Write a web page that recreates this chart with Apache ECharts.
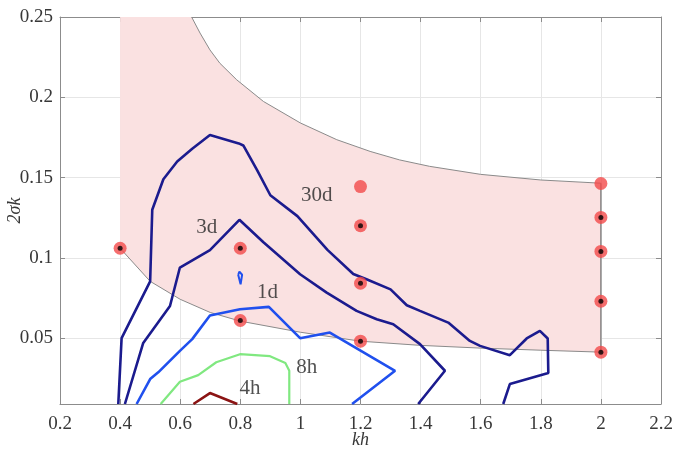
<!DOCTYPE html>
<html><head><meta charset="utf-8">
<script src="https://cdn.jsdelivr.net/npm/echarts@6/dist/echarts.min.js"></script>
<style>html,body{margin:0;padding:0;background:#fff}#c{width:674px;height:452px}</style>
</head><body><div id="c"></div>
<script>
// axis ranges and ticks
const xMin = 0.2, xMax = 2.2, xStep = 0.2;
const yMin = 0.009, yMax = 0.25;
const yTicks = [0.05, 0.1, 0.15, 0.2, 0.25];

// shaded region boundaries (kh, 2σk)
const upperBound = [[0.638,0.25],[0.666,0.240],[0.699,0.2295],[0.732,0.2212],[0.788,0.2109],[0.877,0.1974],[1.0,0.184],[1.121,0.1736],[1.232,0.1663],[1.33,0.161],[1.43,0.157],[1.6,0.152],[1.8,0.1485],[2.0,0.1465]];
const lowerBound = [[0.4,0.106],[0.5,0.0854],[0.6,0.0742],[0.7,0.066],[0.8,0.0606],[1.0,0.0537],[1.2,0.0481],[1.4,0.0455],[1.6,0.0438],[1.8,0.0425],[2.0,0.0413]];

// contours
const c30d = [[0.394,0.009],[0.405,0.050],[0.500,0.0854],[0.507,0.130],[0.544,0.149],[0.590,0.160],[0.640,0.168],[0.699,0.1765],[0.795,0.1713],[0.81,0.170],[0.855,0.155],[0.90,0.139],[0.99,0.126],[1.09,0.105],[1.176,0.090],[1.22,0.0867],[1.30,0.0804],[1.354,0.0705],[1.398,0.067],[1.492,0.0597],[1.564,0.0483],[1.598,0.0452],[1.697,0.0394],[1.753,0.0498],[1.797,0.0545],[1.823,0.0498],[1.825,0.0283],[1.697,0.0214],[1.675,0.009]];
const c3d = [[0.416,0.009],[0.477,0.047],[0.566,0.070],[0.599,0.094],[0.605,0.0949],[0.699,0.1048],[0.797,0.1237],[0.877,0.1097],[0.999,0.0898],[1.0875,0.0784],[1.187,0.067],[1.254,0.0618],[1.309,0.0587],[1.398,0.0463],[1.481,0.0297],[1.392,0.009]];
const c1d = [[0.455,0.009],[0.5,0.0245],[0.527,0.0287],[0.599,0.0421],[0.64,0.0494],[0.699,0.0641],[0.799,0.068],[0.895,0.0695],[0.999,0.050],[1.098,0.0535],[1.315,0.0297],[1.172,0.009]];
const c1dSmall = [[0.793,0.0895],[0.797,0.0915],[0.803,0.0913],[0.806,0.0895],[0.801,0.0835],[0.793,0.0895]];
const c8h = [[0.535,0.009],[0.599,0.0228],[0.66,0.027],[0.72,0.035],[0.799,0.040],[0.899,0.0388],[0.95,0.0345],[0.963,0.0297],[0.963,0.009]];
const c4h = [[0.644,0.009],[0.699,0.0158],[0.79,0.009]];

// measured cases
const dotPts = [[0.4,0.106],[0.8,0.106],[0.8,0.061],[1.2,0.120],[1.2,0.0842],[1.2,0.0481],[2.0,0.1252],[2.0,0.104],[2.0,0.073],[2.0,0.0413]];
const plainPts = [[1.2,0.1444],[2.0,0.1463]];

// contour labels
const contourLabels = [[1.054,0.1388,'30d'],[0.688,0.1188,'3d'],[0.8905,0.0784,'1d'],[1.021,0.0318,'8h'],[0.832,0.0188,'4h']];

const pinkPoly = [[0.4, yMax]].concat(upperBound, lowerBound.slice().reverse());
const rightEdge = [upperBound[upperBound.length-1], lowerBound[lowerBound.length-1]];

const FONT = 'Liberation Serif';
const axisCol = '#8c8c8c';
const gridCol = '#e6e6e6';
const txtCol = '#383838';

function line(data, color, width, z) {
  return { type:'line', data, showSymbol:false, symbol:'none', lineStyle:{color, width}, z: z||3, silent:true, animation:false };
}

const chart = echarts.init(document.getElementById('c'));
chart.setOption({
  animation:false,
  backgroundColor:'#fff',
  grid:{left:60, right:13, top:17, bottom:48, containLabel:false, outerBoundsMode:'none'},
  xAxis:[{
    type:'value', min:xMin, max:xMax, interval:xStep, position:'bottom',
    name:'kh', nameLocation:'middle', nameGap:27, nameMoveOverlap:false,
    nameTextStyle:{fontFamily:FONT, fontStyle:'italic', fontSize:18, color:txtCol},
    axisLine:{show:true, lineStyle:{color:axisCol}},
    axisTick:{show:true, inside:true, length:5, lineStyle:{color:axisCol}},
    axisLabel:{fontFamily:FONT, fontSize:19, color:txtCol, margin:11},
    splitLine:{show:true, lineStyle:{color:gridCol}}
  },{
    type:'value', min:xMin, max:xMax, interval:xStep, position:'top',
    axisLine:{show:true, lineStyle:{color:axisCol}},
    axisTick:{show:true, inside:true, length:5, lineStyle:{color:axisCol}},
    axisLabel:{show:false}, splitLine:{show:false}
  }],
  yAxis:[{
    type:'value', min:yMin, max:yMax, position:'left',
    name:'2σk', nameLocation:'middle', nameGap:36, nameRotate:90, nameMoveOverlap:false,
    nameTextStyle:{fontFamily:FONT, fontStyle:'italic', fontSize:18, color:txtCol},
    axisLine:{show:true, lineStyle:{color:axisCol}},
    axisTick:{show:true, inside:true, length:5, customValues:yTicks, lineStyle:{color:axisCol}},
    axisLabel:{fontFamily:FONT, fontSize:19, color:txtCol, margin:7, customValues:yTicks},
    splitLine:{show:true, lineStyle:{color:gridCol}}
  },{
    type:'value', min:yMin, max:yMax, position:'right',
    axisLine:{show:true, lineStyle:{color:axisCol}},
    axisTick:{show:true, inside:true, length:5, customValues:yTicks, lineStyle:{color:axisCol}},
    axisLabel:{show:false}, splitLine:{show:false}
  }],
  series:[
    { type:'custom', data:[[0.4, yMax]], encode:{x:0,y:1}, z:1, silent:true,
      renderItem:(params, api) => ({
        type:'polygon',
        shape:{points: pinkPoly.map(p => api.coord(p))},
        style:{fill:'#fae1e1', stroke:'none'}
      })
    },
    line(upperBound, '#8a8a8a', 1, 2),
    line(lowerBound, '#8a8a8a', 1, 2),
    line(rightEdge, '#6e6e6e', 1.2, 2),
    line(c30d, '#1b1b8e', 2.6),
    line(c3d, '#1b1b8e', 2.6),
    line(c1d, '#2050ee', 2.6),
    line(c1dSmall, '#2050ee', 2),
    line(c8h, '#80e880', 2.2),
    line(c4h, '#8b1414', 2.6),
    { type:'scatter', data:dotPts.concat(plainPts), symbolSize:13, itemStyle:{color:'#f24a4a'}, z:5, silent:true },
    { type:'scatter', data:dotPts, symbolSize:5, itemStyle:{color:'#000'}, z:6, silent:true },
    { type:'scatter', data:contourLabels, symbolSize:1, itemStyle:{color:'rgba(0,0,0,0)'}, z:7, silent:true,
      label:{show:true, position:'inside', formatter:p => p.data[2], fontFamily:FONT, fontSize:21, color:'#262626'} }
  ]
});
</script></body></html>
